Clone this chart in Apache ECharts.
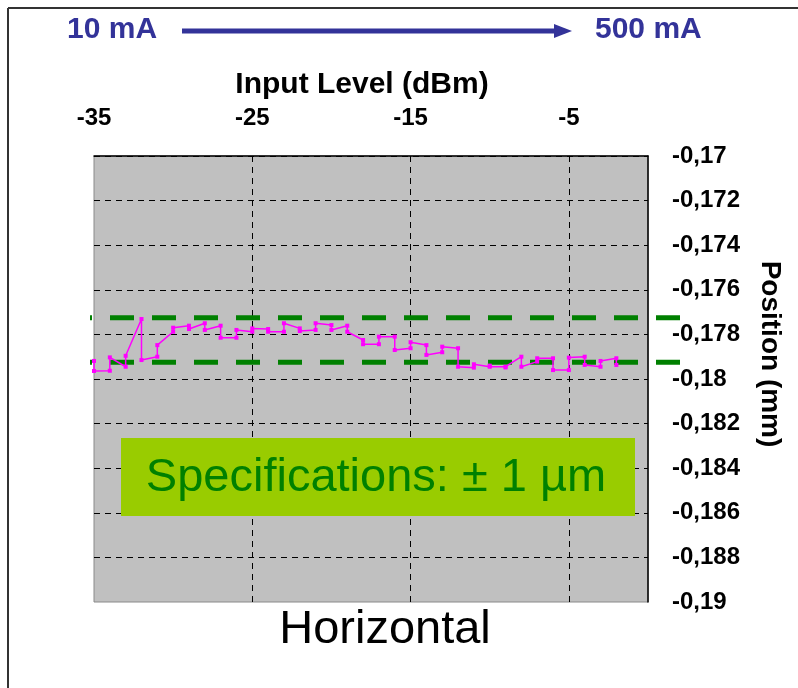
<!DOCTYPE html>
<html>
<head>
<meta charset="utf-8">
<title>Horizontal</title>
<script src="https://cdn.jsdelivr.net/npm/echarts@6/dist/echarts.min.js"></script>
<style>
  html, body { margin: 0; padding: 0; background: #fff; }
  #chart { width: 798px; height: 688px; }
</style>
</head>
<body>
<div id="chart"></div>
<script>
// input level steps (dBm), each measured twice
const inputLevels = [-35, -34, -33, -32, -31, -30, -29, -28, -27, -26, -25, -24, -23, -22, -21, -20, -19,
  -18, -17, -16, -15, -14, -13, -12, -11, -10, -9, -8, -7, -6, -5, -4, -3, -2];
const firstReading = [-0.17919, -0.17963, -0.17945, -0.17731, -0.17900, -0.17788, -0.17761, -0.17750, -0.17761,
  -0.17815, -0.17788, -0.17776, -0.17788, -0.17773, -0.17780, -0.17758, -0.17761, -0.17825, -0.17844, -0.17810,
  -0.17862, -0.17848, -0.17880, -0.17862, -0.17949, -0.17945, -0.17945, -0.17900, -0.17922, -0.17907, -0.17960,
  -0.17900, -0.17945, -0.17907];
const secondReading = [-0.17964, -0.17903, -0.17896, -0.17915, -0.17848, -0.17770, -0.17776, -0.17780, -0.17815,
  -0.17780, -0.17773, -0.17788, -0.17750, -0.17785, -0.17750, -0.17780, -0.17788, -0.17844, -0.17810, -0.17870,
  -0.17835, -0.17892, -0.17855, -0.17945, -0.17934, -0.17940, -0.17948, -0.17945, -0.17907, -0.17960, -0.17904,
  -0.17937, -0.17919, -0.17937];

// spec limits (+/- 1 um)
const specUpper = -0.17725;
const specLower = -0.17925;

const xTicks = [-35, -25, -15, -5];
const yMin = -0.19, yMax = -0.17, yStep = 0.002;

const FONT = '"Liberation Sans", Arial, sans-serif';

const positionData = [];
inputLevels.forEach((x, i) => {
  positionData.push([x, firstReading[i]]);
  positionData.push([x, secondReading[i]]);
});

const chart = echarts.init(document.getElementById('chart'));

const option = {
  animation: false,
  grid: [
    {
      left: 94, right: 150, top: 156, bottom: 86,
      show: true,
      backgroundColor: '#c0c0c0',
      borderColor: '#8a8a8a',
      borderWidth: 1
    },
    // wider band for the spec lines, they run past the plot
    { left: 90, right: 118, top: 156, bottom: 86 }
  ],
  xAxis: [
    {
      type: 'value',
      gridIndex: 0,
      position: 'top',
      min: -35,
      max: 0,
      axisLine: { show: true, lineStyle: { color: '#000', width: 1.5 } },
      axisTick: { show: false, customValues: xTicks },
      axisLabel: {
        customValues: xTicks,
        margin: 26,
        fontFamily: FONT,
        fontSize: 24,
        fontWeight: 'bold',
        color: '#000'
      },
      splitLine: { show: true, showMinLine: false, lineStyle: { color: '#000', type: [6, 5], width: 1 } }
    },
    { type: 'value', gridIndex: 1, min: 0, max: 1, show: false }
  ],
  yAxis: [
    {
      type: 'value',
      gridIndex: 0,
      position: 'right',
      min: yMin,
      max: yMax,
      interval: yStep,
      axisLine: { show: true, lineStyle: { color: '#000', width: 1.5 } },
      axisTick: { show: false },
      axisLabel: {
        margin: 24,
        fontFamily: FONT,
        fontSize: 24,
        fontWeight: 'bold',
        color: '#000',
        formatter: v => String(Math.round(v * 1000) / 1000).replace('.', ',')
      },
      splitLine: { show: true, showMinLine: false, lineStyle: { color: '#000', type: [6, 5], width: 1 } }
    },
    { type: 'value', gridIndex: 1, min: yMin, max: yMax, show: false }
  ],
  series: [
    {
      type: 'line',
      xAxisIndex: 1,
      yAxisIndex: 1,
      data: [[0, specUpper], [1, specUpper]],
      symbol: 'none',
      z: 3,
      lineStyle: { color: '#008000', width: 5, type: [24, 18], dashOffset: 22 }
    },
    {
      type: 'line',
      xAxisIndex: 1,
      yAxisIndex: 1,
      data: [[0, specLower], [1, specLower]],
      symbol: 'none',
      z: 3,
      lineStyle: { color: '#008000', width: 5, type: [24, 18], dashOffset: 22 }
    },
    {
      name: 'Position',
      type: 'line',
      xAxisIndex: 0,
      yAxisIndex: 0,
      data: positionData,
      symbol: 'rect',
      symbolSize: 4,
      z: 5,
      itemStyle: { color: '#ff00ff' },
      lineStyle: { color: '#ff00ff', width: 1.5 }
    }
  ],
  graphic: [
    // frame
    { type: 'line', shape: { x1: 8, y1: 8, x2: 798, y2: 8 }, style: { stroke: '#333', lineWidth: 2 } },
    { type: 'line', shape: { x1: 8, y1: 8, x2: 8, y2: 688 }, style: { stroke: '#333', lineWidth: 2 } },
    // current range arrow
    {
      type: 'text', left: 67, top: 15,
      style: { text: '10 mA', fill: '#333399', font: 'bold 30px ' + FONT }
    },
    {
      type: 'text', left: 595, top: 15,
      style: { text: '500 mA', fill: '#333399', font: 'bold 30px ' + FONT }
    },
    { type: 'line', shape: { x1: 182, y1: 31, x2: 556, y2: 31 }, style: { stroke: '#333399', lineWidth: 5 } },
    { type: 'polygon', shape: { points: [[554, 24], [572, 31], [554, 38]] }, style: { fill: '#333399' } },
    // axis titles
    {
      type: 'text', x: 362, y: 85,
      style: { text: 'Input Level (dBm)', fill: '#000', font: 'bold 30px ' + FONT, align: 'center', verticalAlign: 'middle' }
    },
    {
      type: 'text', x: 770, y: 354, rotation: -Math.PI / 2,
      style: { text: 'Position (mm)', fill: '#000', font: 'bold 28px ' + FONT, align: 'center', verticalAlign: 'middle' }
    },
    // spec note
    {
      type: 'rect', z: 10,
      shape: { x: 121, y: 438, width: 514, height: 78 },
      style: { fill: '#99cc00' }
    },
    {
      type: 'text', z: 11, x: 376, y: 478,
      style: { text: 'Specifications: \u00b1 1 \u00b5m', fill: '#008000', font: '47px ' + FONT, align: 'center', verticalAlign: 'middle' }
    },
    {
      type: 'text', x: 385, y: 630,
      style: { text: 'Horizontal', fill: '#000', font: '47px ' + FONT, align: 'center', verticalAlign: 'middle' }
    }
  ]
};

chart.setOption(option);
</script>
</body>
</html>
